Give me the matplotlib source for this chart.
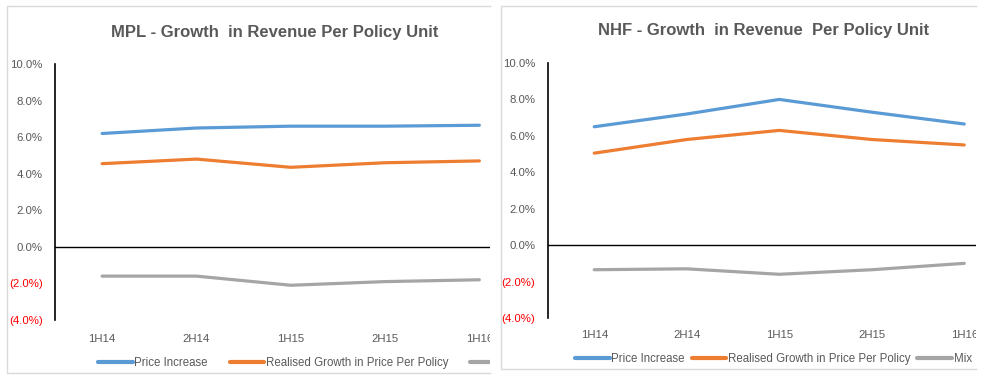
"""Two Excel-style line panels: growth in revenue per policy unit (MPL / NHF)."""
import matplotlib
matplotlib.use("Agg")
import matplotlib.pyplot as plt
from matplotlib import font_manager
from matplotlib.lines import Line2D
from matplotlib.ticker import FuncFormatter, MultipleLocator
from matplotlib.transforms import Bbox, TransformedBbox

W, H = 995, 376

periods = ["1H14", "2H14", "1H15", "2H15", "1H16"]
series_names = ["Price Increase", "Realised Growth in Price Per Policy", "Mix"]

mpl_price = [6.2, 6.5, 6.6, 6.6, 6.65]
mpl_realised = [4.55, 4.8, 4.35, 4.6, 4.7]
mpl_mix = [-1.6, -1.6, -2.1, -1.9, -1.8]

nhf_price = [6.5, 7.2, 8.0, 7.3, 6.65]
nhf_realised = [5.05, 5.8, 6.3, 5.8, 5.5]
nhf_mix = [-1.35, -1.3, -1.6, -1.35, -1.0]

COLORS = ["#5B9BD5", "#ED7D31", "#A5A5A5"]
TEXT = "#595959"
NEG = "#FF0000"
BORDER = "#D9D9D9"


def has_font(name):
    try:
        font_manager.findfont(name, fallback_to_default=False)
        return True
    except ValueError:
        return False


NARROW = has_font("Liberation Sans Narrow")
TITLE_FAMILY = ["Liberation Sans Narrow", "Liberation Sans"] if NARROW else ["Liberation Sans"]
TITLE_SIZE = 14.5 if NARROW else 12
BODY = ["Liberation Sans", "DejaVu Sans"]


def fx(px):
    return px / W


def fy(py):
    return 1 - py / H


def pct(v, _pos=None):
    if v < 0:
        return f"({abs(v):.1f}%)"
    return f"{v:.1f}%"


def panel(fig, title, data, box, axes_px, step, title_xy, legend_xy, legend_kw, xpad):
    x0, y0, x1, y1 = box          # visible panel area (pixels, from top-left)
    ax_l, ax_t, ax_b = axes_px    # y-axis x, 10% y, -4% y
    clip = TransformedBbox(Bbox.from_extents(fx(x0), fy(y1), fx(x1), fy(y0)), fig.transFigure)

    ax = fig.add_axes([fx(ax_l), fy(ax_b), fx(x1 - ax_l), (ax_b - ax_t) / H])
    ax.set_facecolor("none")
    for vals, name, color in zip(data, series_names, COLORS):
        ax.plot(range(len(periods)), vals, color=color, lw=2.3, label=name,
                solid_capstyle="round")
    ax.set_xlim(-0.5, -0.5 + (x1 - ax_l) / step)
    ax.set_ylim(-4, 10)
    ax.axhline(0, color="black", lw=1.0, zorder=1)

    for side in ["top", "right", "bottom"]:
        ax.spines[side].set_visible(False)
    ax.spines["left"].set_color("black")
    ax.spines["left"].set_linewidth(1.2)

    ax.yaxis.set_major_locator(MultipleLocator(2))
    ax.yaxis.set_major_formatter(FuncFormatter(pct))
    ax.set_xticks(range(len(periods)))
    ax.set_xticklabels(periods)
    ax.tick_params(axis="y", length=0, pad=9, labelsize=8.2, labelcolor=TEXT)
    ax.tick_params(axis="x", length=0, pad=xpad, labelsize=8.2, labelcolor=TEXT)
    for lab in ax.get_yticklabels() + ax.get_xticklabels():
        lab.set_fontfamily(BODY)
    for tick, val in zip(ax.get_yticklabels(), ax.get_yticks()):
        if val < 0:
            tick.set_color(NEG)
    for lab in ax.get_xticklabels():
        lab.set_clip_box(clip)
        lab.set_clip_on(True)

    fig.text(fx(title_xy[0]), fy(title_xy[1]), title, ha="center", va="center",
             fontsize=TITLE_SIZE, fontweight="bold", color=TEXT, family=TITLE_FAMILY)

    leg = fig.legend(*ax.get_legend_handles_labels(), loc="center left",
                     bbox_to_anchor=(fx(legend_xy[0]), fy(legend_xy[1])),
                     ncol=3, frameon=False, borderpad=0, borderaxespad=0,
                     handlelength=3.0, handletextpad=0.15,
                     prop={"family": BODY, "size": 8.3}, labelcolor=TEXT, **legend_kw)
    for t in leg.get_texts():
        t.set_clip_box(clip)
        t.set_clip_on(True)
    for h in leg.legend_handles:
        h.set_linewidth(3.0)
        h.set_clip_box(clip)
        h.set_clip_on(True)

    # chart area border, open on the cropped right side
    xs = [fx(x1), fx(x0), fx(x0), fx(x1)]
    ys = [fy(y0), fy(y0), fy(y1), fy(y1)]
    fig.add_artist(Line2D(xs, ys, color=BORDER, lw=1.0))
    return ax


fig = plt.figure(figsize=(W / 100, H / 100), dpi=100)
fig.patch.set_facecolor("white")

panel(fig, "MPL - Growth  in Revenue Per Policy Unit",
      [mpl_price, mpl_realised, mpl_mix],
      box=(7, 6, 490, 373), axes_px=(55, 64, 320), step=94.3,
      title_xy=(275, 32), legend_xy=(98, 363),
      legend_kw={"columnspacing": 1.9}, xpad=10)

panel(fig, "NHF - Growth  in Revenue  Per Policy Unit",
      [nhf_price, nhf_realised, nhf_mix],
      box=(501, 6, 976, 369), axes_px=(548, 63, 318), step=92.5,
      title_xy=(764, 31), legend_xy=(575, 359),
      legend_kw={"columnspacing": 0.6}, xpad=8.5)

fig.savefig("out.png", dpi=100, facecolor="white")
